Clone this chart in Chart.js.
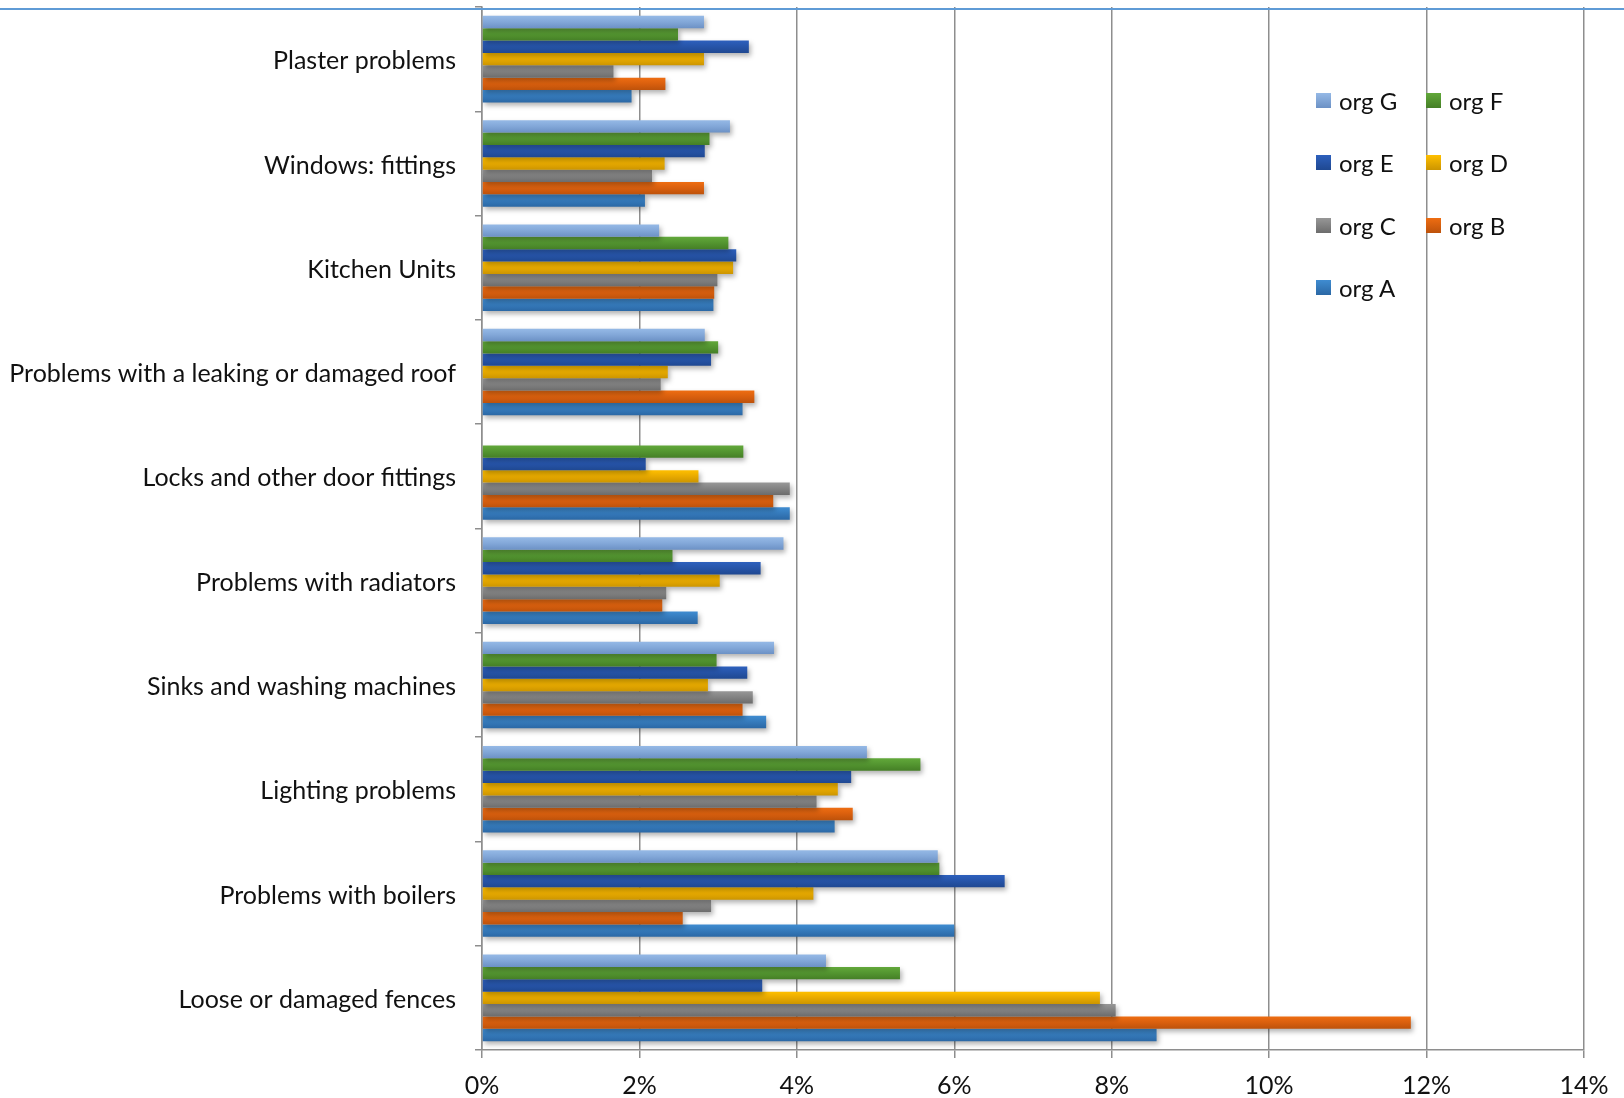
<!DOCTYPE html>
<html>
<head>
<meta charset="utf-8">
<script src="https://cdn.jsdelivr.net/npm/chart.js@4/dist/chart.umd.min.js"></script>
<style>
  html, body { margin: 0; padding: 0; background: #ffffff; }
  #wrap { position: relative; width: 1624px; height: 1098px; overflow: hidden; }
  #topline { position: absolute; left: 0; top: 8px; width: 1624px; height: 2px; background: #5f9bd6; z-index: 3; }
  #legend { position: absolute; left: 0; top: 0; width: 1624px; height: 1098px; pointer-events: none; z-index: 2; }
  .lg-item { position: absolute; display: flex; align-items: center; font-family: Lato, "Open Sans", sans-serif; font-size: 24px; color: #111; white-space: nowrap; }
  .lg-box { width: 15px; height: 15px; margin-right: 8px; }
</style>
</head>
<body>
<div id="wrap">
  <canvas id="c" width="1624" height="1098"></canvas>
  <div id="topline"></div>
  <div id="legend"></div>
</div>
<script>
const categories = [
  'Plaster problems',
  'Windows: fittings',
  'Kitchen Units',
  'Problems with a leaking or damaged roof',
  'Locks and other door fittings',
  'Problems with radiators',
  'Sinks and washing machines',
  'Lighting problems',
  'Problems with boilers',
  'Loose or damaged fences'
];
const seriesNames = ['org G', 'org F', 'org E', 'org D', 'org C', 'org B', 'org A'];
const orgG = [2.82, 3.15, 2.25, 2.83, null, 3.83, 3.71, 4.89, 5.79, 4.37];
const orgF = [2.49, 2.89, 3.13, 3.00, 3.32, 2.42, 2.98, 5.57, 5.81, 5.31];
const orgE = [3.39, 2.83, 3.23, 2.91, 2.08, 3.54, 3.37, 4.69, 6.64, 3.56];
const orgD = [2.82, 2.32, 3.19, 2.36, 2.75, 3.02, 2.87, 4.52, 4.21, 7.85];
const orgC = [1.67, 2.16, 2.99, 2.27, 3.91, 2.34, 3.44, 4.25, 2.91, 8.05];
const orgB = [2.33, 2.82, 2.95, 3.46, 3.70, 2.29, 3.31, 4.71, 2.55, 11.80];
const orgA = [1.90, 2.07, 2.94, 3.31, 3.91, 2.74, 3.61, 4.48, 6.00, 8.57];
const xTicks = [0, 2, 4, 6, 8, 10, 12, 14];

const seriesValues = [orgG, orgF, orgE, orgD, orgC, orgB, orgA];
const topColors    = ['#95b9e6', '#62a83a', '#2d60bd', '#ffbf00', '#979797', '#ee6d12', '#3f8cd1'];
const bottomColors = ['#6c91c5', '#457f26', '#1f4891', '#cc9500', '#6c6c6c', '#bd520b', '#2b68a5'];
const midColors    = ['#82a7d8', '#539530', '#2654a8', '#e8aa00', '#828282', '#d95f0e', '#357abb'];

const gridColor = '#8e8e8e';
const fontFamily = 'Lato, "Open Sans", sans-serif';

const gradientPlugin = {
  id: 'gradientBars',
  beforeDatasetsDraw(chart) {
    const ctx = chart.ctx;
    chart.data.datasets.forEach((ds, i) => {
      const meta = chart.getDatasetMeta(i);
      meta.data.forEach(el => {
        const p = el.getProps(['y', 'height'], true);
        if (!isFinite(p.y) || !isFinite(p.height)) return;
        const g = ctx.createLinearGradient(0, p.y - p.height / 2, 0, p.y + p.height / 2);
        g.addColorStop(0, topColors[i]);
        g.addColorStop(0.5, midColors[i]);
        g.addColorStop(1, bottomColors[i]);
        el.options.backgroundColor = g;
      });
    });
    ctx.save();
    ctx.shadowColor = 'rgba(0,0,0,0.30)';
    ctx.shadowBlur = 5;
    ctx.shadowOffsetX = 2;
    ctx.shadowOffsetY = 3;
  },
  afterDatasetsDraw(chart) {
    chart.ctx.restore();
  }
};

const datasets = seriesNames.map((name, i) => ({
  label: name,
  data: seriesValues[i],
  backgroundColor: () => midColors[i],
  borderWidth: 0,
  categoryPercentage: 0.83,
  barPercentage: 1.0
}));

const chart = new Chart(document.getElementById('c'), {
  type: 'bar',
  data: { labels: categories, datasets },
  options: {
    indexAxis: 'y',
    responsive: false,
    animation: false,
    events: [],
    layout: { padding: { top: 7, right: 40, left: 0, bottom: 0 } },
    plugins: { legend: { display: false }, tooltip: { enabled: false } },
    scales: {
      x: {
        type: 'linear',
        min: 0,
        max: 14,
        afterBuildTicks: (s) => { s.ticks = xTicks.map(v => ({ value: v })); },
        afterFit: (s) => { s.height = 48; s.paddingLeft = 0; s.paddingRight = 0; },
        grid: { color: gridColor, lineWidth: 1.5, tickLength: 8, drawTicks: true, tickColor: gridColor },
        border: { display: true, color: gridColor, width: 1.5 },
        ticks: {
          color: '#111',
          font: { family: fontFamily, size: 25 },
          padding: 13,
          maxRotation: 0,
          callback: (v) => v + '%'
        }
      },
      y: {
        type: 'category',
        offset: true,
        afterFit: (s) => { s.width = 482; s.paddingTop = 0; s.paddingBottom = 0; },
        grid: { display: true, drawOnChartArea: false, offset: true, color: gridColor, lineWidth: 1.5, tickLength: 7, tickColor: gridColor },
        border: { display: true, color: gridColor, width: 1.5 },
        ticks: {
          color: '#111',
          font: { family: fontFamily, size: 25 },
          padding: 19,
          labelOffset: 2,
          crossAlign: 'near'
        }
      }
    }
  },
  plugins: [gradientPlugin]
});

// Legend (two columns, row-major like the reference)
const legend = document.getElementById('legend');
const colX = [1316, 1426];
const rowY = [100, 162.5, 225, 287.5];
seriesNames.forEach((name, i) => {
  const item = document.createElement('div');
  item.className = 'lg-item';
  item.style.left = colX[i % 2] + 'px';
  item.style.top = (rowY[Math.floor(i / 2)] - 15) + 'px';
  item.style.height = '30px';
  const box = document.createElement('div');
  box.className = 'lg-box';
  box.style.background = 'linear-gradient(' + topColors[i] + ',' + bottomColors[i] + ')';
  const txt = document.createElement('span');
  txt.textContent = name;
  item.appendChild(box);
  item.appendChild(txt);
  legend.appendChild(item);
});
</script>
</body>
</html>
